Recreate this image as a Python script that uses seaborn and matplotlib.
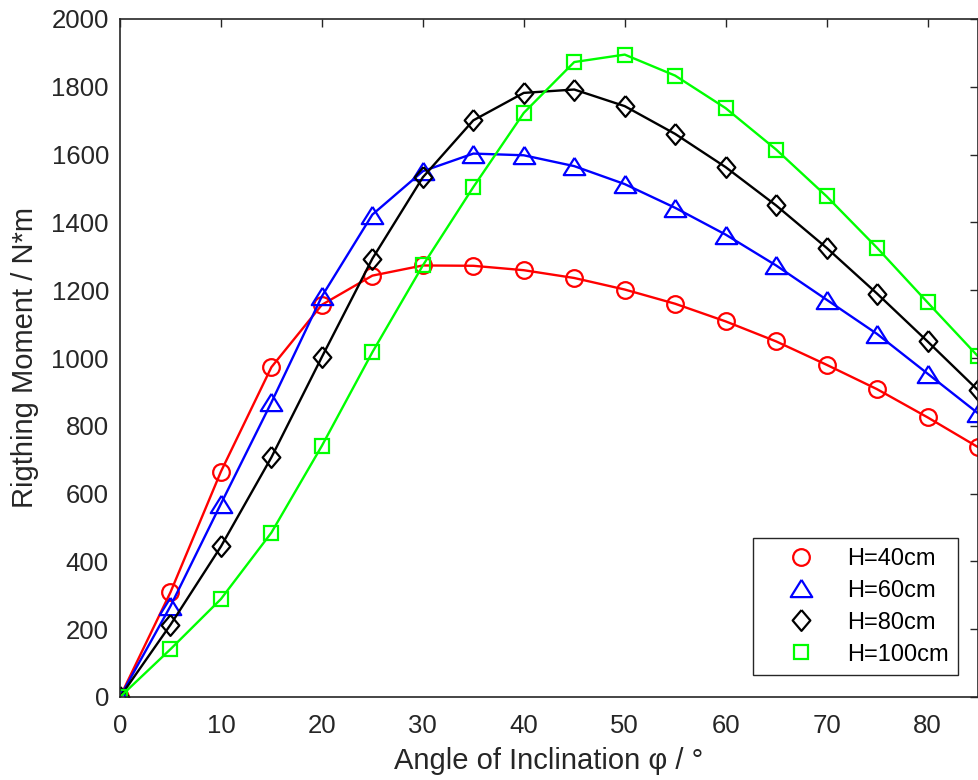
import matplotlib
matplotlib.use("Agg")
import matplotlib.pyplot as plt
from matplotlib.lines import Line2D
import seaborn as sns
import pandas as pd

angles = [0, 5, 10, 15, 20, 25, 30, 35, 40, 45, 50, 55, 60, 65, 70, 75, 80, 85]
h40 = [0, 309, 665, 973, 1157, 1243, 1273, 1272, 1259, 1236, 1202, 1160, 1108, 1049, 980, 908, 825, 737]
h60 = [0, 268, 570, 869, 1182, 1423, 1551, 1603, 1598, 1566, 1513, 1443, 1364, 1273, 1172, 1071, 954, 837]
h80 = [0, 213, 444, 707, 1003, 1293, 1533, 1701, 1782, 1792, 1743, 1661, 1563, 1450, 1325, 1190, 1049, 905]
h100 = [0, 141, 289, 485, 741, 1017, 1273, 1504, 1723, 1873, 1895, 1833, 1737, 1615, 1477, 1325, 1164, 1005]
labels = ["H=40cm", "H=60cm", "H=80cm", "H=100cm"]
colors = ["#FF0000", "#0000FF", "#000000", "#00FF00"]

tri = [(0, 0.8), (-1, -0.8), (1, -0.8), (0, 0.8)]
dia = [(0, 1), (0.85, 0), (0, -1), (-0.85, 0), (0, 1)]
markers = ["o", tri, dia, "s"]
msizes = [12, 15.5, 15, 10]

sns.set_theme(style="white")
plt.rcParams["font.family"] = ["Liberation Sans", "DejaVu Sans"]
plt.rcParams["axes.edgecolor"] = "#262626"

fig = plt.figure(figsize=(9.79, 7.8), dpi=100)
ax = fig.add_axes([120 / 979, 83 / 780, 858 / 979, 678 / 780])

series = [h40, h60, h80, h100]
for vals, lab, col, mk, ms in zip(series, labels, colors, markers, msizes):
    df = pd.DataFrame({"angle": angles, "moment": vals})
    sns.lineplot(data=df, x="angle", y="moment", ax=ax, color=col, lw=1.7,
                 marker=mk, markersize=ms, markerfacecolor="none",
                 markeredgecolor=col, markeredgewidth=1.6, legend=False)

ax.set_xlim(0, 85)
ax.set_ylim(0, 2000)
ax.set_xticks(range(0, 81, 10))
ax.set_yticks(range(0, 2001, 200))
ax.tick_params(axis="both", which="both", direction="in", length=6, width=1,
               color="#262626", labelcolor="#262626", labelsize=18.5,
               top=True, right=True)
ax.tick_params(axis="x", pad=12)
ax.tick_params(axis="y", pad=8)
for s in ax.spines.values():
    s.set_linewidth(1.2)
    s.set_color("#262626")

ax.set_xlabel("Angle of Inclination φ / °", fontsize=21, color="#262626", labelpad=7)
ax.set_ylabel("Rigthing Moment / N*m", fontsize=21, color="#262626", labelpad=9)

handles = [Line2D([], [], linestyle="none", marker=mk, markersize=ms,
                  markerfacecolor="none", markeredgecolor=col, markeredgewidth=1.6)
           for col, mk, ms in zip(colors, markers, msizes)]
leg = ax.legend(handles, labels, loc="lower right", bbox_to_anchor=(0.977, 0.0324),
                borderaxespad=0, fontsize=17, frameon=True, fancybox=False,
                framealpha=1, edgecolor="#262626", borderpad=0.4,
                handlelength=3.27, handletextpad=0.31, labelspacing=0.42)
leg.get_frame().set_linewidth(1.0)
for t in leg.get_texts():
    t.set_color("#000000")

fig.savefig("out.png", dpi=100)
